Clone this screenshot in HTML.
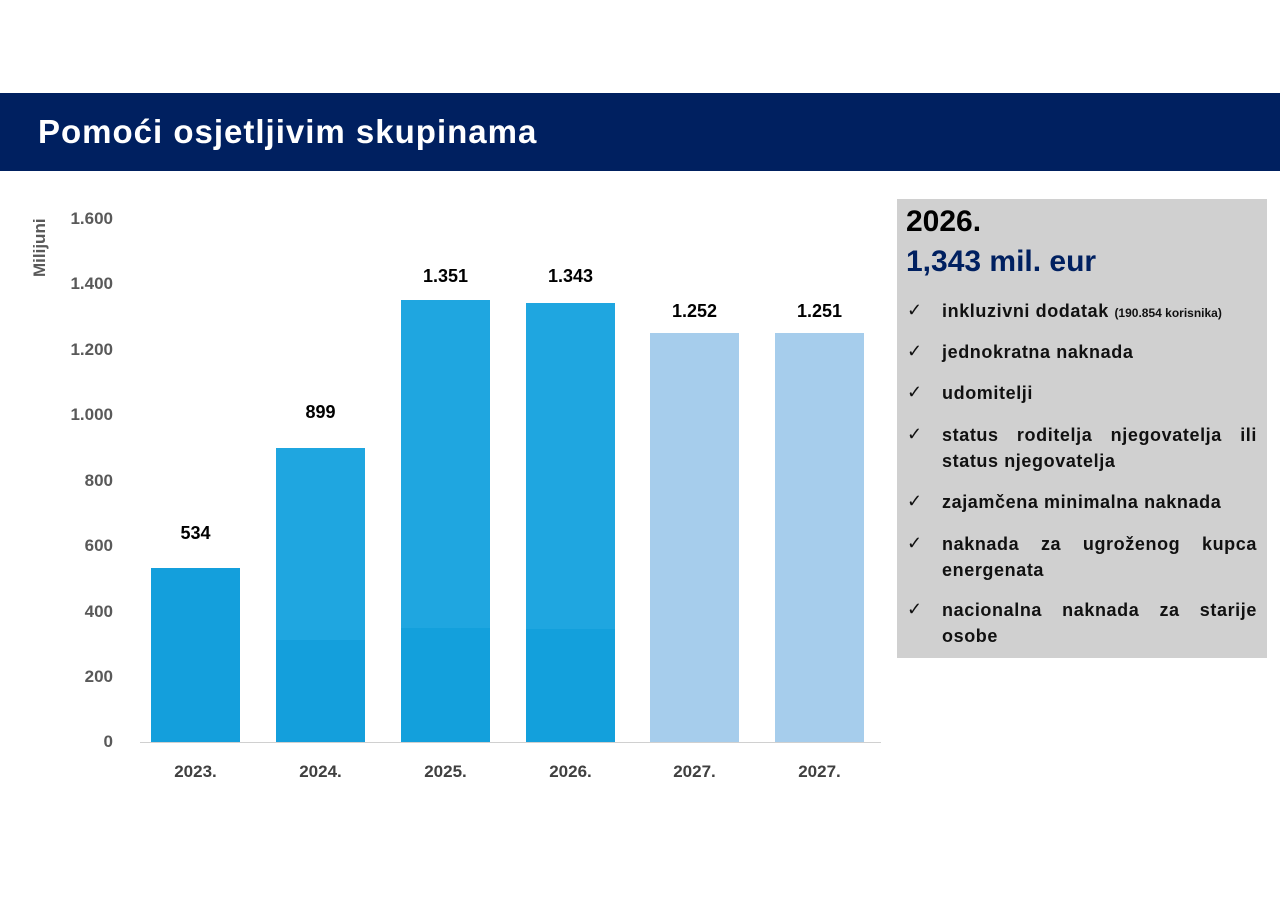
<!DOCTYPE html>
<html><head><meta charset="utf-8"><style>
body{margin:0;width:1280px;height:905px;background:#fff;position:relative;overflow:hidden;font-family:"Liberation Sans",sans-serif;font-weight:bold}
.a{position:absolute}
.bar{position:absolute;width:89px}
.yl{position:absolute;right:1167px;font-size:17px;color:#595959;line-height:20px}
.xl{position:absolute;width:89px;text-align:center;font-size:17px;color:#404040;top:762px}
.vl{position:absolute;width:89px;text-align:center;font-size:18px;color:#000}
.it{position:absolute;left:942px;width:315px;font-size:18px;letter-spacing:0.6px;line-height:26px;color:#111;text-align:justify;text-align-last:left}
.ck{position:absolute;left:907px;font-size:18px;color:#111;font-weight:normal}
</style></head><body>
<div class="a" style="left:0;top:93px;width:1280px;height:78px;background:#002060"></div>
<div class="a" style="left:38px;top:112px;font-size:33px;letter-spacing:1px;color:#fff;line-height:40px">Pomoći osjetljivim skupinama</div>
<div class="a" style="left:30px;top:277px;transform:rotate(-90deg);transform-origin:left top;font-size:17px;color:#595959">Milijuni</div>
<div class="yl" style="top:209px">1.600</div>
<div class="yl" style="top:274px">1.400</div>
<div class="yl" style="top:340px">1.200</div>
<div class="yl" style="top:405px">1.000</div>
<div class="yl" style="top:471px">800</div>
<div class="yl" style="top:536px">600</div>
<div class="yl" style="top:602px">400</div>
<div class="yl" style="top:667px">200</div>
<div class="yl" style="top:732px">0</div>
<div class="a" style="left:140px;top:742px;width:741px;height:1px;background:#d0d0d0"></div>
<div class="bar" style="left:151px;top:568px;height:174px;background:#149fdc"></div>
<div class="bar" style="left:276px;top:448px;height:192px;background:#1fa6e0"></div>
<div class="bar" style="left:276px;top:640px;height:102px;background:#149fdc"></div>
<div class="bar" style="left:401px;top:300px;height:328px;background:#1fa6e0"></div>
<div class="bar" style="left:401px;top:628px;height:114px;background:#13a0dc"></div>
<div class="bar" style="left:526px;top:303px;height:326px;background:#1fa6e0"></div>
<div class="bar" style="left:526px;top:629px;height:113px;background:#13a0dc"></div>
<div class="bar" style="left:650px;top:333px;height:409px;background:#a6cdec"></div>
<div class="bar" style="left:775px;top:333px;height:409px;background:#a6cdec"></div>
<div class="vl" style="left:151px;top:523px">534</div>
<div class="vl" style="left:276px;top:402px">899</div>
<div class="vl" style="left:401px;top:266px">1.351</div>
<div class="vl" style="left:526px;top:266px">1.343</div>
<div class="vl" style="left:650px;top:301px">1.252</div>
<div class="vl" style="left:775px;top:301px">1.251</div>
<div class="xl" style="left:151px">2023.</div>
<div class="xl" style="left:276px">2024.</div>
<div class="xl" style="left:401px">2025.</div>
<div class="xl" style="left:526px">2026.</div>
<div class="xl" style="left:650px">2027.</div>
<div class="xl" style="left:775px">2027.</div>
<div class="a" style="left:897px;top:199px;width:370px;height:459px;background:#d0d0d0"></div>
<div class="a" style="left:906px;top:205px;font-size:30px;color:#000">2026.</div>
<div class="a" style="left:906px;top:245px;font-size:30px;color:#002060">1,343 mil. eur</div>
<div class="ck" style="top:300px">✓</div><div class="it" style="top:298px">inkluzivni dodatak <span style="font-size:12px;letter-spacing:0">(190.854 korisnika)</span></div>
<div class="ck" style="top:341px">✓</div><div class="it" style="top:339px">jednokratna naknada</div>
<div class="ck" style="top:382px">✓</div><div class="it" style="top:380px">udomitelji</div>
<div class="ck" style="top:424px">✓</div><div class="it" style="top:422px;text-align-last:justify">status roditelja njegovatelja ili</div><div class="it" style="top:448px">status njegovatelja</div>
<div class="ck" style="top:491px">✓</div><div class="it" style="top:489px">zajamčena minimalna naknada</div>
<div class="ck" style="top:533px">✓</div><div class="it" style="top:531px">naknada za ugroženog kupca energenata</div>
<div class="ck" style="top:599px">✓</div><div class="it" style="top:597px">nacionalna naknada za starije osobe</div>
</body></html>
